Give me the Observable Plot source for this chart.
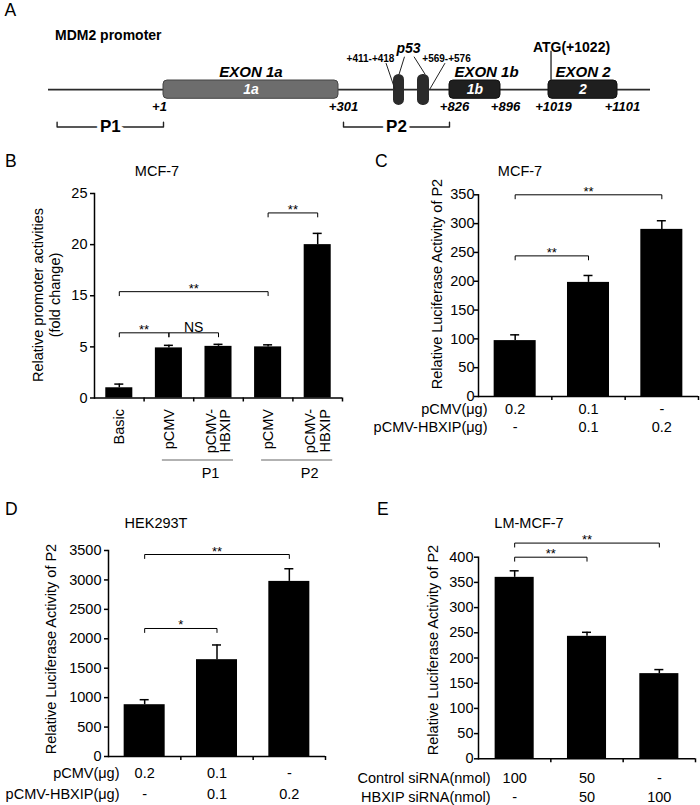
<!DOCTYPE html>
<html><head><meta charset="utf-8">
<script src="https://cdn.jsdelivr.net/npm/d3@7"></script>
<script src="https://cdn.jsdelivr.net/npm/@observablehq/plot@0.6"></script>
<style>
html,body{margin:0;padding:0;background:#fff;}
#fig{position:relative;width:700px;height:805px;overflow:hidden;font-family:"Liberation Sans",Arial,Helvetica,sans-serif;color:#000;background:#fff;}
.panel{position:absolute;}
.lbl{position:absolute;white-space:pre;line-height:1;}
.rot{position:absolute;white-space:pre;text-align:center;line-height:17px;font-size:14.5px;transform:translate(-50%,-50%) rotate(-90deg);}
</style></head><body><div id="fig"></div>
<script>
// ================= DATA =================
// Panel A: MDM2 promoter (genomic positions)
const aLineExtent = [-400, 1200];
const aExonNames = ["EXON 1a", "EXON 1b", "EXON 2"];
const aExonShort = ["1a", "1b", "2"];
const aExonStart = [1, 826, 1019];
const aExonEnd = [301, 896, 1101];
const aSiteNames = ["+411-+418", "+569-+576"];
const aSiteStart = [411, 569];
const aSiteEnd = [418, 576];
const aPosLabels = ["+1", "+301", "+826", "+896", "+1019", "+1101"];
const aPosValues = [1, 301, 826, 896, 1019, 1101];
const aRegionNames = ["P1", "P2"];
const aRegionStart = [-370, 311];
const aRegionEnd = [1, 826];
const aATG = 1022;
const aATGLabel = "ATG(+1022)";
const aTitle = "MDM2 promoter";

// Panel B
const bTitle = "MCF-7";
const bYLabel = "Relative promoter activities\n(fold change)";
const bLabels = ["Basic", "pCMV", "pCMV-\nHBXIP", "pCMV", "pCMV-\nHBXIP"];
const bGroups = ["", "P1", "P1", "P2", "P2"];
const bValues = [1.0, 4.9, 5.1, 5.0, 20.0];
const bErrors = [0.36, 0.4, 0.4, 0.4, 1.1];
const bTicks = [0, 5, 15, 20, 25];
const bBrFrom = [0, 1, 0, 3];
const bBrTo = [1, 2, 3, 4];
const bBrLevel = [7.75, 7.75, 15.4, 23.1];
const bBrText = ["**", "NS", "**", "**"];

// Panel C
const cTitle = "MCF-7";
const cYLabel = "Relative Luciferase Activity of P2";
const cHeaders = ["pCMV(μg)", "pCMV-HBXIP(μg)"];
const cRow1 = ["0.2", "0.1", "-"];
const cRow2 = ["-", "0.1", "0.2"];
const cValues = [97, 198, 290];
const cErrors = [10, 12, 15];
const cTicks = [0, 50, 100, 150, 200, 250, 300, 350];
const cBrFrom = [0, 0];
const cBrTo = [1, 2];
const cBrLevel = [244, 350];
const cBrText = ["**", "**"];

// Panel D
const dTitle = "HEK293T";
const dYLabel = "Relative Luciferase Activity of P2";
const dHeaders = ["pCMV(μg)", "pCMV-HBXIP(μg)"];
const dRow1 = ["0.2", "0.1", "-"];
const dRow2 = ["-", "0.1", "0.2"];
const dValues = [880, 1645, 2975];
const dErrors = [85, 250, 215];
const dTicks = [0, 500, 1000, 1500, 2000, 2500, 3000, 3500];
const dBrFrom = [0, 0];
const dBrTo = [1, 2];
const dBrLevel = [2175, 3432];
const dBrText = ["*", "**"];

// Panel E
const eTitle = "LM-MCF-7";
const eYLabel = "Relative Luciferase Activity of P2";
const eHeaders = ["Control siRNA(nmol)", "HBXIP siRNA(nmol)"];
const eRow1 = ["100", "50", "-"];
const eRow2 = ["-", "50", "100"];
const eValues = [360, 243, 169];
const eErrors = [13, 8, 8];
const eTicks = [0, 50, 100, 150, 200, 250, 300, 350, 400];
const eBrFrom = [0, 0];
const eBrTo = [1, 2];
const eBrLevel = [400, 428];
const eBrText = ["**", "**"];

// ================= DRAWING =================
const FONT = '"Liberation Sans", Arial, Helvetica, sans-serif';
const fig = document.getElementById("fig");
const baseStyle = {fontFamily: FONT, fontSize: "14.5px", color: "#000", background: "transparent", overflow: "visible"};

function mount(node, left, top) {
  const w = document.createElement("div");
  w.className = "panel";
  w.style.left = left + "px";
  w.style.top = top + "px";
  w.appendChild(node);
  fig.appendChild(w);
}
function label(str, x, base, size, opt = {}) {
  const d = document.createElement("div");
  d.className = "lbl";
  d.textContent = str;
  d.style.left = x + "px";
  d.style.top = (base - 0.8465 * size) + "px";
  d.style.fontSize = size + "px";
  d.style.fontWeight = opt.weight || "normal";
  if (opt.anchor === "middle") d.style.transform = "translateX(-50%)";
  fig.appendChild(d);
}
function rotLabel(str, cx, cy) {
  const d = document.createElement("div");
  d.className = "rot";
  d.textContent = str;
  d.style.left = cx + "px";
  d.style.top = cy + "px";
  fig.appendChild(d);
}

// ---------- Panel A ----------
// schematic (non-uniform) layout of the promoter: genomic position -> schematic units
const aKnots = [-400, 1, 301, 411, 418, 569, 576, 826, 896, 1019, 1101, 1200];
const aSchem = [48, 163, 338, 393, 404, 417, 429, 449, 500, 548, 617, 650];
const ax = d3.scaleLinear(aKnots, aSchem);
const at = (g, off) => ax.invert(ax(g) + off);
const midOf = (s, e) => ax.invert((ax(s) + ax(e)) / 2);
const exons = aExonNames.map((name, i) => ({name, short: aExonShort[i], start: aExonStart[i], end: aExonEnd[i], mid: midOf(aExonStart[i], aExonEnd[i])}));
const sites = aSiteNames.map((name, i) => ({name, start: aSiteStart[i], end: aSiteEnd[i]}));
const regions = aRegionNames.map((name, i) => ({name, start: aRegionStart[i], end: aRegionEnd[i], mid: midOf(aRegionStart[i], aRegionEnd[i])}));
const regionPts = regions.flatMap(r => [
  {name: r.name, x: r.start, y: -3.56}, {name: r.name, x: r.start, y: -4.08},
  {name: r.name, x: r.end, y: -4.08}, {name: r.name, x: r.end, y: -3.56}]);
const leaders = [
  {x1: at(sites[0].start, -7.5), y1: 2.9, x2: sites[0].start + 1, y2: 0},
  {x1: sites[0].end, y1: 3.6, x2: (sites[0].start + sites[0].end) / 2, y2: 1.66},
  {x1: at(sites[1].start, -3.5), y1: 3.6, x2: (sites[1].start + sites[1].end) / 2 + 1, y2: 1.66},
  {x1: at(sites[1].end, 15.5), y1: 2.9, x2: sites[1].end, y2: 0}
];
const exonLabelDx = [0, 11.5, 0];

const plotA = Plot.plot({
  width: 700, height: 160, margin: 0,
  x: {transform: ax, domain: [0, 700], range: [0, 700], axis: null},
  y: {domain: [-1, 1], range: [98.3, 80], axis: null},
  style: baseStyle,
  marks: [
    Plot.ruleY([0], {x1: () => aLineExtent[0], x2: () => aLineExtent[1], stroke: "#2a2a2a", strokeWidth: 1.6}),
    Plot.rect(exons.slice(0, 1), {x1: "start", x2: "end", y1: () => -1, y2: () => 1, fill: "#6d6d6d", stroke: "#444", strokeWidth: 1, rx: 4}),
    Plot.rect(exons.slice(1), {x1: "start", x2: "end", y1: () => -1, y2: () => 1, fill: "#1f1f1f", stroke: "#111", strokeWidth: 1, rx: 4}),
    Plot.rect(sites, {x1: "start", x2: "end", y1: () => -1.72, y2: () => 1.66, fill: "#2b2b2b", rx: 5.5}),
    Plot.link(leaders, {x1: "x1", y1: "y1", x2: "x2", y2: "y2", stroke: "#222", strokeWidth: 1}),
    Plot.ruleX([aATG], {x: d => d, y1: () => 1, y2: () => 4.2, stroke: "#222", strokeWidth: 1.3}),
    ...exons.map((e, i) => Plot.text([e], {x: "mid", y: () => 1.91, text: "name", dx: exonLabelDx[i], fontWeight: "bold", fontStyle: "italic", fontSize: 15})),
    Plot.text(exons, {x: "mid", y: () => 0, text: "short", fill: "#fff", fontWeight: "bold", fontStyle: "italic", fontSize: 14}),
    Plot.text([aPosLabels[0]], {x: () => aPosValues[0], y: () => -1.91, text: d => d, dx: -4, fontWeight: "bold", fontStyle: "italic", fontSize: 13}),
    Plot.text(aPosLabels.slice(1), {x: (d, i) => aPosValues[i + 1], y: () => -1.91, text: d => d, dx: 5, fontWeight: "bold", fontStyle: "italic", fontSize: 13}),
    Plot.text([sites[0]], {x: d => at(d.start, -23), y: () => 3.37, text: "name", fontWeight: "bold", fontSize: 10}),
    Plot.text([sites[1]], {x: d => at(d.end, 17), y: () => 3.37, text: "name", fontWeight: "bold", fontSize: 10}),
    Plot.text(["p53"], {x: () => at(sites[0].end, 4), y: () => 4.46, text: d => d, fontWeight: "bold", fontStyle: "italic", fontSize: 14}),
    Plot.text([aATGLabel], {x: () => aATG, y: () => 4.64, text: d => d, dx: 20.5, fontWeight: "bold", fontSize: 14}),
    Plot.text([aTitle], {x: () => aLineExtent[0], y: () => 5.92, text: d => d, dx: 6.5, textAnchor: "start", fontWeight: "bold", fontSize: 14}),
    Plot.line(regionPts, {x: "x", y: "y", z: "name", stroke: "#222", strokeWidth: 1.4}),
    Plot.text(regions, {x: "mid", y: () => -4.08, text: "name", fontWeight: "bold", fontSize: 17, stroke: "#fff", strokeWidth: 8, paintOrder: "stroke", fill: "#000"})
  ]
});
mount(plotA, 0, 0);

// ---------- Bar panels ----------
function barPanel(o) {
  const n = o.values.length;
  const ids = o.values.map((_, i) => String(i));
  const frameW = o.width - o.marginLeft - o.marginRight;
  const step = frameW / n;
  const bw = step * (1 - o.pad);
  const tf = o.yTransform || (v => v);
  const tfInv = o.yTransform ? (v => o.yTransform.invert(v)) : (v => v);
  const lin = d3.scaleLinear(o.yDomain, [o.height - o.marginBottom, o.marginTop]);
  const drop = l => tfInv(lin.invert(lin(tf(l)) + 4));
  const rows = ids.map((id, i) => ({id, value: o.values[i], top: o.values[i] + o.errors[i],
    r1: o.row1 ? o.row1[i] : "", r2: o.row2 ? o.row2[i] : ""}));
  const brk = o.brFrom.map((f, k) => ({k, f, t: o.brTo[k], from: ids[f], to: ids[o.brTo[k]], level: o.brLevel[k], text: o.brText[k]}));
  const brkPts = brk.flatMap(b => [
    {k: b.k, x: b.from, y: drop(b.level)}, {k: b.k, x: b.from, y: b.level},
    {k: b.k, x: b.to, y: b.level}, {k: b.k, x: b.to, y: drop(b.level)}]);
  const capInset = (bw - 9) / 2;
  const fmt = d3.format("d");
  const marks = [
    Plot.barY(rows, {x: "id", y: "value", fill: "#000"}),
    Plot.ruleX(rows, {x: "id", y1: "value", y2: "top", stroke: "#000", strokeWidth: 1.5}),
    Plot.tickY(rows, {x: "id", y: "top", insetLeft: capInset, insetRight: capInset, stroke: "#000", strokeWidth: 1.5}),
    Plot.line(brkPts, {x: "x", y: "y", z: "k", stroke: "#000", strokeWidth: 1}),
    ...brk.map(b => Plot.text([b], {x: "from", y: "level", text: "text", dx: (b.t - b.f) * step / 2,
      dy: b.text === "NS" ? -1 : 1, lineAnchor: "bottom", fontSize: b.text === "NS" ? 14 : 13})),
    Plot.ruleY([0], {stroke: "#000", strokeWidth: 1.5}),
    Plot.frame({anchor: "left", stroke: "#000", strokeWidth: 1.5}),
    // axis tick positions are given in the scale's (transformed) space
    Plot.axisY({ticks: o.ticks.map(tf), tickSize: 4, tickPadding: o.tickPadding,
      tickFormat: t => fmt(Math.round(tfInv(t))), fontSize: 14.5, label: null, strokeWidth: 1.5}),
    Plot.axisX({tickSize: 4, tickFormat: () => "", dx: step / 2, label: null, strokeWidth: 1.5})
  ];
  if (o.row1) {
    marks.push(
      Plot.text(rows, {x: "id", text: "r1", frameAnchor: "bottom", dy: o.rowDy[0], lineAnchor: "bottom", fontSize: 14.5}),
      Plot.text(rows, {x: "id", text: "r2", frameAnchor: "bottom", dy: o.rowDy[1], lineAnchor: "bottom", fontSize: 14.5}),
      Plot.text([o.headers[0]], {text: d => d, frameAnchor: "bottom-left", textAnchor: "end", dx: o.headerDx, dy: o.rowDy[0], lineAnchor: "bottom", fontSize: 14.5}),
      Plot.text([o.headers[1]], {text: d => d, frameAnchor: "bottom-left", textAnchor: "end", dx: o.headerDx, dy: o.rowDy[1], lineAnchor: "bottom", fontSize: 14.5})
    );
  }
  if (o.extra) marks.push(...o.extra(ids, step));
  const yOpts = {domain: o.yDomain, label: null};
  if (o.yTransform) yOpts.transform = o.yTransform;
  return Plot.plot({
    width: o.width, height: o.height,
    marginLeft: o.marginLeft, marginRight: o.marginRight, marginTop: o.marginTop, marginBottom: o.marginBottom,
    x: {domain: ids, paddingInner: o.pad, paddingOuter: o.pad / 2, round: false, label: null},
    y: yOpts,
    style: baseStyle,
    marks
  });
}

// Panel B: the value axis is drawn with evenly spaced ticks 0, 5, 15, 20, 25 (break between 5 and 15)
const bAxisBreak = d3.scaleLinear([0, 5, 15, 25], [0, 5, 10, 20]);
const bGroupRows = [...new Set(bGroups.filter(g => g))].map(g => ({
  name: g, start: String(bGroups.indexOf(g)), end: String(bGroups.lastIndexOf(g))}));
mount(barPanel({
  width: 350, height: 330, marginLeft: 94, marginRight: 8, marginTop: 33, marginBottom: 92.5,
  values: bValues, errors: bErrors, pad: 0.455,
  yDomain: [0, 20], yTransform: bAxisBreak, ticks: bTicks, tickPadding: 3,
  brFrom: bBrFrom, brTo: bBrTo, brLevel: bBrLevel, brText: bBrText,
  extra: (ids, step) => [
    Plot.axisX({tickSize: 0, tickPadding: 11, tickRotate: -90, tickFormat: id => bLabels[+id], fontSize: 14.5, label: null}),
    Plot.ruleY(bGroupRows, {x1: "start", x2: "end", y: () => 0, dy: 62, insetLeft: 7, insetRight: -1.5, stroke: "#999", strokeWidth: 1.5}),
    Plot.text(bGroupRows, {x: "end", y: () => 0, text: "name", dy: 79.5, dx: -8, lineAnchor: "bottom", fontSize: 14.5})
  ]
}), 0, 160);

// Panel C
mount(barPanel({
  width: 350, height: 300, marginLeft: 128, marginRight: 2, marginTop: 34.3, marginBottom: 64,
  values: cValues, errors: cErrors, pad: 0.427,
  yDomain: [0, 350], ticks: cTicks, tickPadding: 0,
  brFrom: cBrFrom, brTo: cBrTo, brLevel: cBrLevel, brText: cBrText,
  row1: cRow1, row2: cRow2, headers: cHeaders, rowDy: [17.3, 35.7], headerDx: 9
}), 350, 160);

// Panel D
mount(barPanel({
  width: 350, height: 315, marginLeft: 108, marginRight: 25, marginTop: 60, marginBottom: 49,
  values: dValues, errors: dErrors, pad: 0.433,
  yDomain: [0, 3500], ticks: dTicks, tickPadding: 3,
  brFrom: dBrFrom, brTo: dBrTo, brLevel: dBrLevel, brText: dBrText,
  row1: dRow1, row2: dRow2, headers: dHeaders, rowDy: [21, 42], headerDx: 11
}), 0, 490);

// Panel E
mount(barPanel({
  width: 350, height: 315, marginLeft: 128, marginRight: 5, marginTop: 66.7, marginBottom: 46.7,
  values: eValues, errors: eErrors, pad: 0.46,
  yDomain: [0, 400], ticks: eTicks, tickPadding: 1,
  brFrom: eBrFrom, brTo: eBrTo, brLevel: eBrLevel, brText: eBrText,
  row1: eRow1, row2: eRow2, headers: eHeaders, rowDy: [23.7, 43.3], headerDx: 12
}), 350, 490);

// ---------- Panel letters, titles, axis titles ----------
label("A", 4.5, 16.7, 17.5);
label("B", 5, 168.3, 17.5);
label("C", 375, 168, 17.5);
label("D", 5, 515.7, 17.5);
label("E", 377, 515.7, 17.5);
label(bTitle, 157, 176.7, 14.5, {anchor: "middle"});
label(cTitle, 520, 176.7, 14.5, {anchor: "middle"});
label(dTitle, 156, 528.3, 14.5, {anchor: "middle"});
label(eTitle, 529, 528.3, 14.5, {anchor: "middle"});
rotLabel(bYLabel, 46.5, 295);
rotLabel(cYLabel, 437, 283.5);
rotLabel(dYLabel, 50.5, 649);
rotLabel(eYLabel, 433, 649.5);
</script></body></html>
